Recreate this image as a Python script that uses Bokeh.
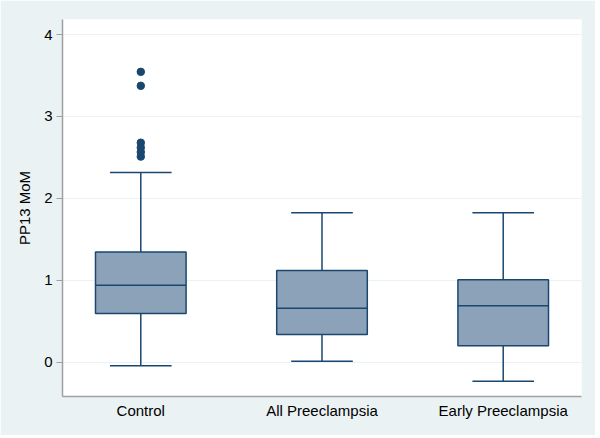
from bokeh.plotting import figure
from bokeh.models import Range1d, FixedTicker, ColumnDataSource
from bokeh.embed import file_html
from bokeh.resources import INLINE

# ---- data ----
categories = ["Control", "All Preeclampsia", "Early Preeclampsia"]
positions = [1, 2, 3]
q1 = [0.594, 0.338, 0.20]
median = [0.94, 0.66, 0.69]
q3 = [1.345, 1.12, 1.006]
lower = [-0.045, 0.012, -0.232]
upper = [2.317, 1.824, 1.824]
outlier_group = [1, 1, 1, 1, 1, 1]
outlier_values = [3.545, 3.374, 2.68, 2.62, 2.565, 2.51]
y_ticks = [0, 1, 2, 3, 4]

NAVY = "#1A476F"
BOXFILL = "#8CA2B8"
BG = "#EAF2F3"
FONT = "Liberation Sans"

box_w = 0.5
cap_w = 0.34

p = figure(width=595, height=435, output_backend="svg", toolbar_location=None,
           x_range=Range1d(0.568, 3.432), y_range=Range1d(-0.419, 4.184),
           min_border_left=62, min_border_right=14, min_border_top=19, min_border_bottom=39)
p.border_fill_color = BG
p.background_fill_color = "white"
p.outline_line_color = None

src = ColumnDataSource(dict(
    x=positions, q1=q1, med=median, q3=q3, lo=lower, hi=upper,
    left=[v - box_w / 2 for v in positions], right=[v + box_w / 2 for v in positions],
    cl=[v - cap_w / 2 for v in positions], cr=[v + cap_w / 2 for v in positions],
))

# whiskers
p.segment(x0="x", y0="q3", x1="x", y1="hi", source=src, line_color=NAVY, line_width=1.5)
p.segment(x0="x", y0="lo", x1="x", y1="q1", source=src, line_color=NAVY, line_width=1.5)
# boxes
p.quad(left="left", right="right", bottom="q1", top="q3", source=src,
       fill_color=BOXFILL, line_color=NAVY, line_width=1.5)
# medians
p.segment(x0="left", y0="med", x1="right", y1="med", source=src, line_color=NAVY, line_width=1.5)
# caps
p.segment(x0="cl", y0="hi", x1="cr", y1="hi", source=src, line_color=NAVY, line_width=1.5)
p.segment(x0="cl", y0="lo", x1="cr", y1="lo", source=src, line_color=NAVY, line_width=1.5)
# outliers
p.scatter(x=outlier_group, y=outlier_values, size=7.5, marker="circle",
          fill_color=NAVY, line_color=NAVY)

# grid
p.xgrid.grid_line_color = None
p.ygrid.grid_line_color = BG
p.ygrid.grid_line_width = 1
p.ygrid.ticker = FixedTicker(ticks=y_ticks)

# y axis
p.yaxis.ticker = FixedTicker(ticks=y_ticks)
p.yaxis.axis_label = "PP13 MoM"
p.yaxis.axis_label_text_font = FONT
p.yaxis.axis_label_text_font_size = "15px"
p.yaxis.axis_label_text_font_style = "normal"
p.yaxis.axis_label_text_color = "black"
p.yaxis.axis_label_standoff = 8
p.yaxis.major_label_text_font = FONT
p.yaxis.major_label_text_font_size = "15px"
p.yaxis.major_label_text_color = "black"
p.yaxis.major_label_standoff = 4
p.yaxis.major_tick_out = 6
p.yaxis.major_tick_in = 0
p.yaxis.minor_tick_out = 0
p.yaxis.minor_tick_in = 0
p.yaxis.axis_line_color = "#A0A0A0"
p.yaxis.major_tick_line_color = "#A0A0A0"
p.yaxis.axis_line_width = 1.5

# x axis
p.xaxis.ticker = FixedTicker(ticks=positions)
p.xaxis.major_label_overrides = {pos: lab for pos, lab in zip(positions, categories)}
p.xaxis.major_label_text_font = FONT
p.xaxis.major_label_text_font_size = "15px"
p.xaxis.major_label_text_color = "black"
p.xaxis.major_label_standoff = 5
p.xaxis.major_tick_out = 0
p.xaxis.major_tick_in = 0
p.xaxis.minor_tick_out = 0
p.xaxis.minor_tick_in = 0
p.xaxis.axis_line_color = "#A0A0A0"
p.xaxis.axis_line_width = 1.5

open("out.html", "w").write(file_html(p, INLINE))
